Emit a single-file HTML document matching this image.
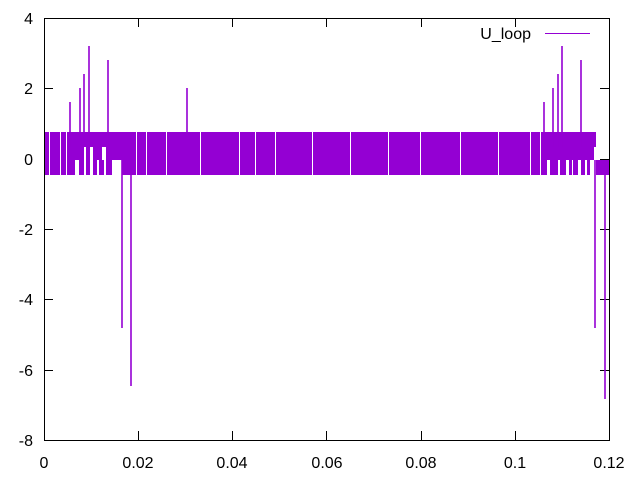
<!DOCTYPE html>
<html><head><meta charset="utf-8"><style>
body{margin:0;background:#fff;}
svg{display:block;font-family:"Liberation Sans",sans-serif;font-size:16px;}
</style></head><body>
<svg width="640" height="480" viewBox="0 0 640 480">
<g stroke="#000" stroke-width="1" fill="none">
<rect x="44.5" y="18.5" width="565" height="422"/>
<path d="M44 440.5h9M609 440.5h-9M44 370.5h9M609 370.5h-9M44 299.5h9M609 299.5h-9M44 229.5h9M609 229.5h-9M44 159.5h9M609 159.5h-9M44 88.5h9M609 88.5h-9M44 18.5h9M609 18.5h-9"/>
<path d="M44.5 440v-9M44.5 18v9M138.5 440v-9M138.5 18v9M232.5 440v-9M232.5 18v9M326.5 440v-9M326.5 18v9M421.5 440v-9M421.5 18v9M515.5 440v-9M515.5 18v9M609.5 440v-9M609.5 18v9"/>
</g>
<g text-anchor="end" fill="#000">
<text x="33" y="446">-8</text><text x="33" y="376">-6</text><text x="33" y="305">-4</text>
<text x="33" y="235">-2</text><text x="33" y="165">0</text><text x="33" y="94">2</text><text x="33" y="24">4</text>
</g>
<g text-anchor="middle" fill="#000">
<text x="44" y="468">0</text><text x="138" y="468">0.02</text><text x="232" y="468">0.04</text>
<text x="327" y="468">0.06</text><text x="421" y="468">0.08</text><text x="515" y="468">0.1</text><text x="609" y="468">0.12</text>
</g>
<text x="531" y="39" text-anchor="end">U_loop</text>
<line x1="545" y1="33.5" x2="590" y2="33.5" stroke="#9400d3"/>
<g fill="#9400d3">
<rect x="45" y="132" width="78" height="43"/>
<rect x="123" y="132" width="424" height="43"/>
<rect x="547" y="132" width="49" height="43"/>
<rect x="596" y="160" width="13" height="15"/>
</g>
<g fill="#fff">
<rect x="75" y="160" width="4" height="15"/><rect x="84" y="147" width="2" height="28"/><rect x="90" y="147" width="3" height="28"/>
<rect x="97" y="160" width="2" height="15"/><rect x="104" y="147" width="2" height="28"/>
<rect x="112" y="160" width="10" height="15"/><rect x="102" y="147" width="2" height="13"/>
<rect x="547" y="160" width="3" height="15"/><rect x="558" y="160" width="2" height="15"/><rect x="566" y="160" width="3" height="15"/><rect x="572" y="160" width="1" height="15"/>
<rect x="578" y="160" width="3" height="15"/><rect x="585" y="160" width="2" height="15"/><rect x="590" y="160" width="6" height="15"/><rect x="594" y="147" width="2" height="13"/>
<rect x="49" y="132" width="1" height="43"/><rect x="60" y="132" width="1" height="43"/><rect x="66" y="132" width="1" height="43"/>
<rect x="136" y="132" width="1" height="43"/><rect x="146" y="132" width="1" height="43"/><rect x="166" y="132" width="1" height="43"/>
<rect x="200" y="132" width="1" height="43"/><rect x="239" y="132" width="1" height="43"/><rect x="255" y="132" width="1" height="43"/>
<rect x="275" y="132" width="1" height="43"/><rect x="312" y="132" width="1" height="43"/>
<rect x="350" y="132" width="1" height="43"/><rect x="388" y="132" width="1" height="43"/>
<rect x="420" y="132" width="1" height="43"/><rect x="460" y="132" width="1" height="43"/>
<rect x="498" y="132" width="1" height="43"/><rect x="530" y="132" width="1" height="43"/><rect x="540" y="132" width="1" height="43"/>
</g>
<g stroke="#9400d3" stroke-width="1.6" fill="none">
<path d="M70 147V102M80 147V88M84 147V74M89 147V46M108 147V60M122 160V328M131 175V386M187 132V88"/>
<path d="M544 147V102M553 147V88M558 147V74M562 147V46M581 147V60M595 160V328M605 175V399"/>
</g>
</svg>
</body></html>
